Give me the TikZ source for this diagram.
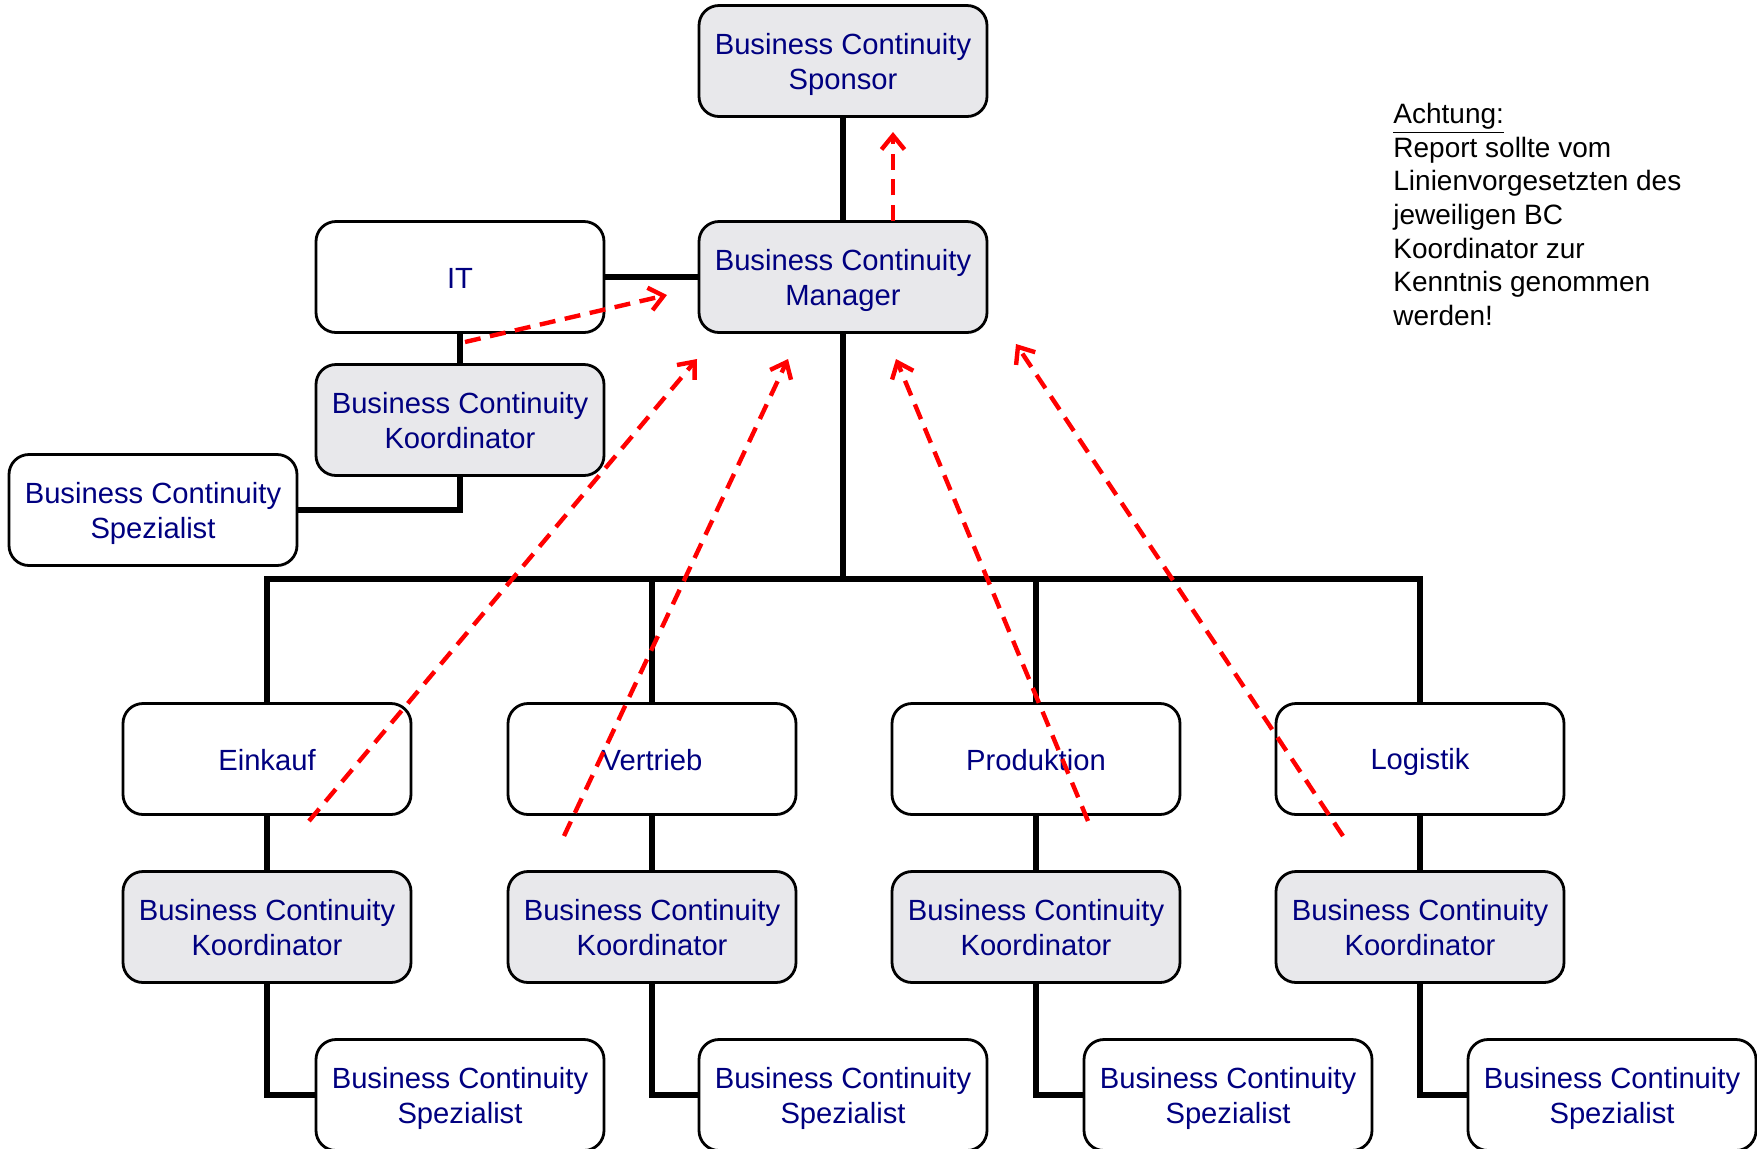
\documentclass[tikz,border=0pt]{standalone}
\usepackage{fontspec}
\setmainfont{Liberation Sans}
\usetikzlibrary{arrows.meta}
\definecolor{navy}{RGB}{0,0,128}
\definecolor{boxgray}{RGB}{232,232,235}
\definecolor{dashred}{RGB}{255,0,0}
\newcommand{\lstrut}{\rule[-3pt]{0pt}{17pt}}
\newcommand{\twoline}[2]{\lstrut#1\\\lstrut#2}
\begin{document}
\begin{tikzpicture}[x=0.5pt,y=-0.5pt,
  box/.style={draw=black, line width=1.4pt, rounded corners=10pt, minimum width=144pt, minimum height=55.5pt, align=center, text=navy, font=\fontsize{14.6}{17.5}\selectfont, inner sep=0pt},
  graybox/.style={box, fill=boxgray},
  whitebox/.style={box, fill=white},
  link/.style={line width=2.6pt, draw=black},
  report/.style={draw=dashred, line width=2.2pt, dash pattern=on 8pt off 4.8pt, -{Straight Barb[length=7pt,width=11.5pt]}},
  notetext/.style={align=left, anchor=north west, inner sep=0pt, font=\fontsize{14}{16.8}\selectfont, text=black}]

\fill[white] (0,0) rectangle (1757,1148);
\useasboundingbox (0,0) rectangle (1757,1148);

% nodes
\node[graybox] (sponsor) at (843,61) {\twoline{Business Continuity}{Sponsor}};
\node[graybox] (manager) at (843,277) {\twoline{Business Continuity}{Manager}};
\node[whitebox] (it) at (460,277) {\lstrut IT};
\node[graybox] (itk) at (460,420) {\twoline{Business Continuity}{Koordinator}};
\node[whitebox] (its) at (153,510) {\twoline{Business Continuity}{Spezialist}};

\node[whitebox] (d1) at (267,759) {\lstrut Einkauf};
\node[whitebox] (d2) at (652,759) {\lstrut Vertrieb};
\node[whitebox] (d3) at (1036,759) {\lstrut Produktion};
\node[whitebox] (d4) at (1420,759) {\lstrut Logistik};

\node[graybox] (k1) at (267,927) {\twoline{Business Continuity}{Koordinator}};
\node[graybox] (k2) at (652,927) {\twoline{Business Continuity}{Koordinator}};
\node[graybox] (k3) at (1036,927) {\twoline{Business Continuity}{Koordinator}};
\node[graybox] (k4) at (1420,927) {\twoline{Business Continuity}{Koordinator}};

\node[whitebox] (s1) at (460,1095) {\twoline{Business Continuity}{Spezialist}};
\node[whitebox] (s2) at (843,1095) {\twoline{Business Continuity}{Spezialist}};
\node[whitebox] (s3) at (1228,1095) {\twoline{Business Continuity}{Spezialist}};
\node[whitebox] (s4) at (1612,1095) {\twoline{Business Continuity}{Spezialist}};

\node[notetext] (note) at (1393,103) {\underline{Achtung:}\\Report sollte vom\\Linienvorgesetzten des\\jeweiligen BC\\Koordinator zur\\Kenntnis genommen\\werden!};

% solid connectors
\coordinate (bus) at (843,579);
\draw[link] (sponsor.south) -- (manager.north);
\draw[link] (it.east) -- (manager.west);
\draw[link] (it.south) -- (itk.north);
\draw[link] (itk.south) |- (its.east);
\draw[link] (manager.south) -- (bus);
\draw[link] (d1.north) |- (bus) -| (d4.north);
\draw[link] (d2.north) -- (d2.north |- bus);
\draw[link] (d3.north) -- (d3.north |- bus);
\foreach \i in {1,2,3,4}{
  \draw[link] (d\i.south) -- (k\i.north);
  \draw[link] (k\i.south) |- (s\i.west);
}

% dashed report arrows
\coordinate (r0a) at (893,221);
\coordinate (r0b) at (893,132);
\coordinate (r1a) at (465,342);
\coordinate (r1b) at (667,295);
\coordinate (r2a) at (309,821);
\coordinate (r2b) at (697,359);
\coordinate (r3a) at (564,836);
\coordinate (r3b) at (788,359);
\coordinate (r4a) at (1088,821);
\coordinate (r4b) at (896,359);
\coordinate (r5a) at (1343,836);
\coordinate (r5b) at (1016,344);
\foreach \j in {0,...,5}{
  \draw[report] (r\j a) -- (r\j b);
}
\end{tikzpicture}
\end{document}
